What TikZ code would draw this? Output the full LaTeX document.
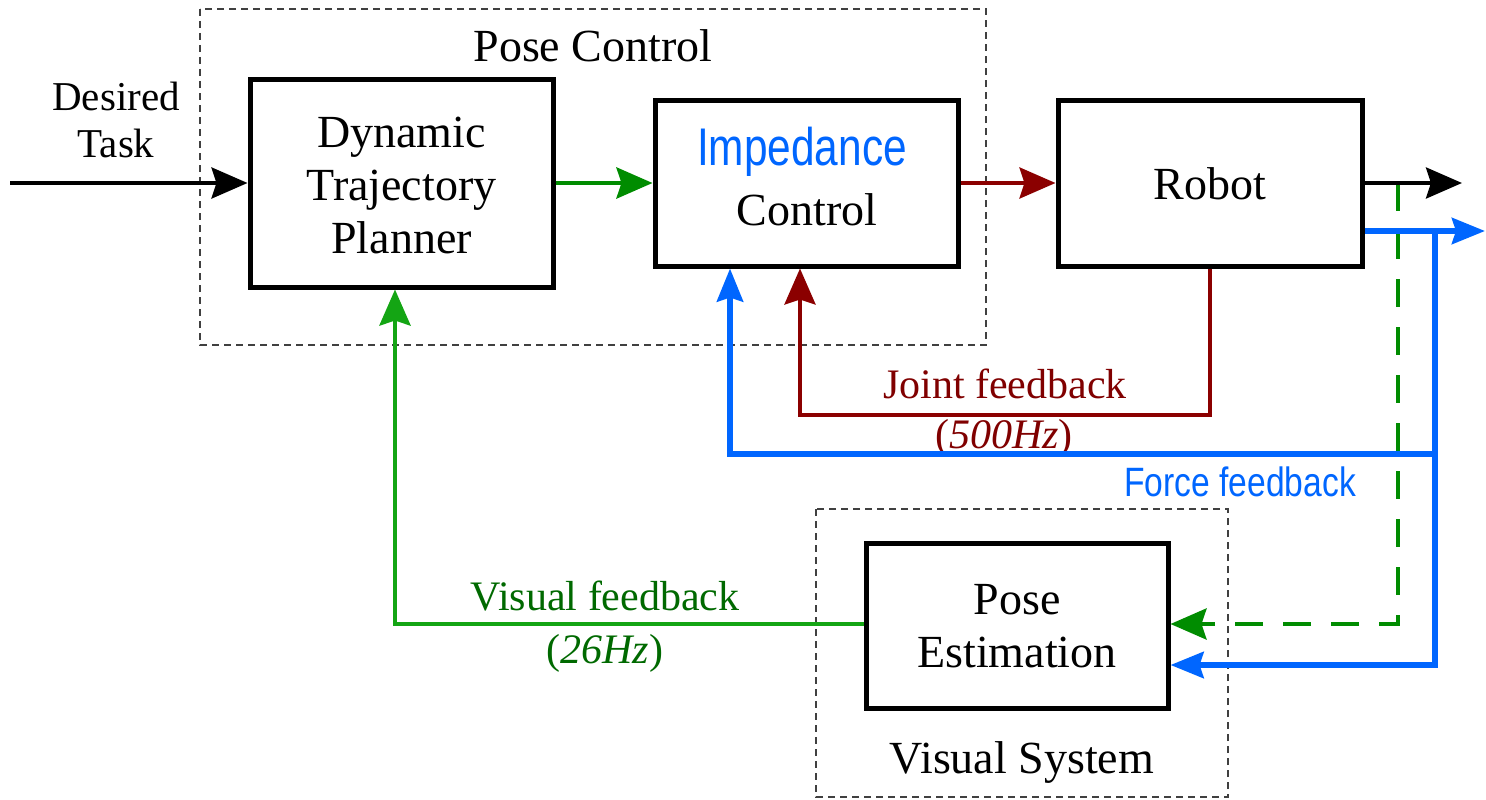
\documentclass[tikz,border=0pt]{standalone}
\usepackage{fontspec}
\usepackage{graphicx}
\setmainfont{Liberation Serif}
\newfontfamily\lsans{Liberation Sans}
\usetikzlibrary{arrows.meta}
\definecolor{fblue}{RGB}{0,102,255}
\definecolor{fred}{RGB}{139,0,0}
\definecolor{fredtxt}{RGB}{128,0,0}
\definecolor{fgreen}{RGB}{20,165,20}
\definecolor{fgreenB}{RGB}{0,140,0}
\definecolor{fgreentxt}{RGB}{0,105,0}
\tikzset{
  blockbox/.style={draw=black, line width=5pt, fill=white, inner sep=0pt},
  blocktext/.style={font=\fontsize{46}{53}\selectfont, align=center, anchor=base, inner sep=0pt},
  groupbox/.style={draw=black!75, line width=1.5pt, dash pattern=on 7pt off 5pt},
  bigtip/.style={-{Stealth[length=36pt,width=31pt,inset=5pt]}},
  bluetip/.style={-{Stealth[length=33pt,width=26pt,inset=4pt]}},
  blkline/.style={line width=4pt, black, bigtip},
  grnline/.style={line width=4.5pt, fgreen, bigtip},
  grnfwd/.style={line width=4.5pt, fgreenB, bigtip},
  grndash/.style={line width=4pt, fgreenB, dash pattern=on 28pt off 20pt, bigtip},
  redline/.style={line width=4pt, fred, bigtip},
  bluline/.style={line width=6pt, fblue, bluetip},
  grouplabel/.style={font=\fontsize{46}{52}\selectfont, anchor=base, inner sep=0pt},
  fblabel/.style={font=\fontsize{42}{47}\selectfont, anchor=base, inner sep=0pt},
}
\begin{document}
\begin{tikzpicture}[x=1pt,y=-1pt]
\useasboundingbox (0,0) rectangle (1486,800);
% group boxes
\draw[groupbox] (200,9) rectangle (986,345);
\draw[groupbox] (816,509) rectangle (1228,797);

% blocks
\node[blockbox, minimum width=303pt, minimum height=207pt] (dtp) at (401.5,183.5) {};
\node[blockbox, minimum width=303pt, minimum height=166pt] (imp) at (806.5,183) {};
\node[blockbox, minimum width=304pt, minimum height=166pt] (robot) at (1210,183) {};
\node[blockbox, minimum width=302pt, minimum height=165pt] (pe) at (1017,625.5) {};

% texts
\node[grouplabel] (pclabel) at (593,62) {Pose Control};
\node[grouplabel] (vslabel) at (1022,773) {Visual System};
\node[font=\fontsize{41}{47}\selectfont, align=center, inner sep=0pt, anchor=base] (task) at (116,157) {Desired\\Task};
\node[blocktext] (dtptext) at (401.5,253) {Dynamic\\Trajectory\\Planner};
\node[anchor=base, inner sep=0pt, text=fblue] (imptext) at (802,165)
  {\lsans\fontsize{53}{53}\selectfont\scalebox{0.8}[1]{Impedance}};
\node[blocktext] (ctltext) at (807,225) {Control};
\node[blocktext] (robtext) at (1210,199) {Robot};
\node[blocktext] (petext) at (1017,667) {Pose\\Estimation};

% coordinates
\coordinate (in) at (10,183);
\coordinate (out) at (1462,183);
\coordinate (b1) at (1435,231);
\coordinate (bout) at (1485,231);
\coordinate (b2) at (1435,665);
\coordinate (b3) at (1435,454);
\coordinate (bimp) at (730,454);
\coordinate (r2) at (800,415);
\coordinate (g1) at (1398,183);
\coordinate (g2) at (1398,624);
\coordinate (v1) at (395,624);

% labels of feedback
\node[fblabel, text=fredtxt] (jlab) at (1005,398) {Joint feedback};
\node[fblabel, text=fredtxt] (jhz) at (1004,448) {(\textit{500Hz})};
\node[fblabel, text=fgreentxt] (vlab) at (605,610) {Visual feedback};
\node[fblabel, text=fgreentxt] (vhz) at (605,663) {(\textit{26Hz})};
\node[anchor=base, inner sep=0pt, text=fblue] (flab) at (1240,496)
  {\lsans\fontsize{41}{41}\selectfont\scalebox{0.82}[1]{Force feedback}};

% green dashed (under others)
\draw[grndash] (g1) -- (g2) -- (g2 -| pe.east);

% forward path
\draw[blkline] (in) -- (in -| dtp.west);
\draw[grnfwd] (dtp.east |- imp.west) -- (imp.west);
\draw[redline] (imp.east) -- (robot.west);
\draw[blkline] (robot.east |- out) -- (out);

% joint feedback
\draw[redline] (robot.south) -- (robot.south |- r2) -- (r2) -- (r2 |- imp.south);

% visual feedback
\draw[grnline] (pe.west |- v1) -- (v1) -- (v1 |- dtp.south);

% force feedback
\draw[bluline] (robot.east |- b1) -- (bout);
\draw[bluline] (b1) -- (b2) -- (b2 -| pe.east);
\draw[bluline] (b3) -- (bimp) -- (bimp |- imp.south);
\end{tikzpicture}
\end{document}
